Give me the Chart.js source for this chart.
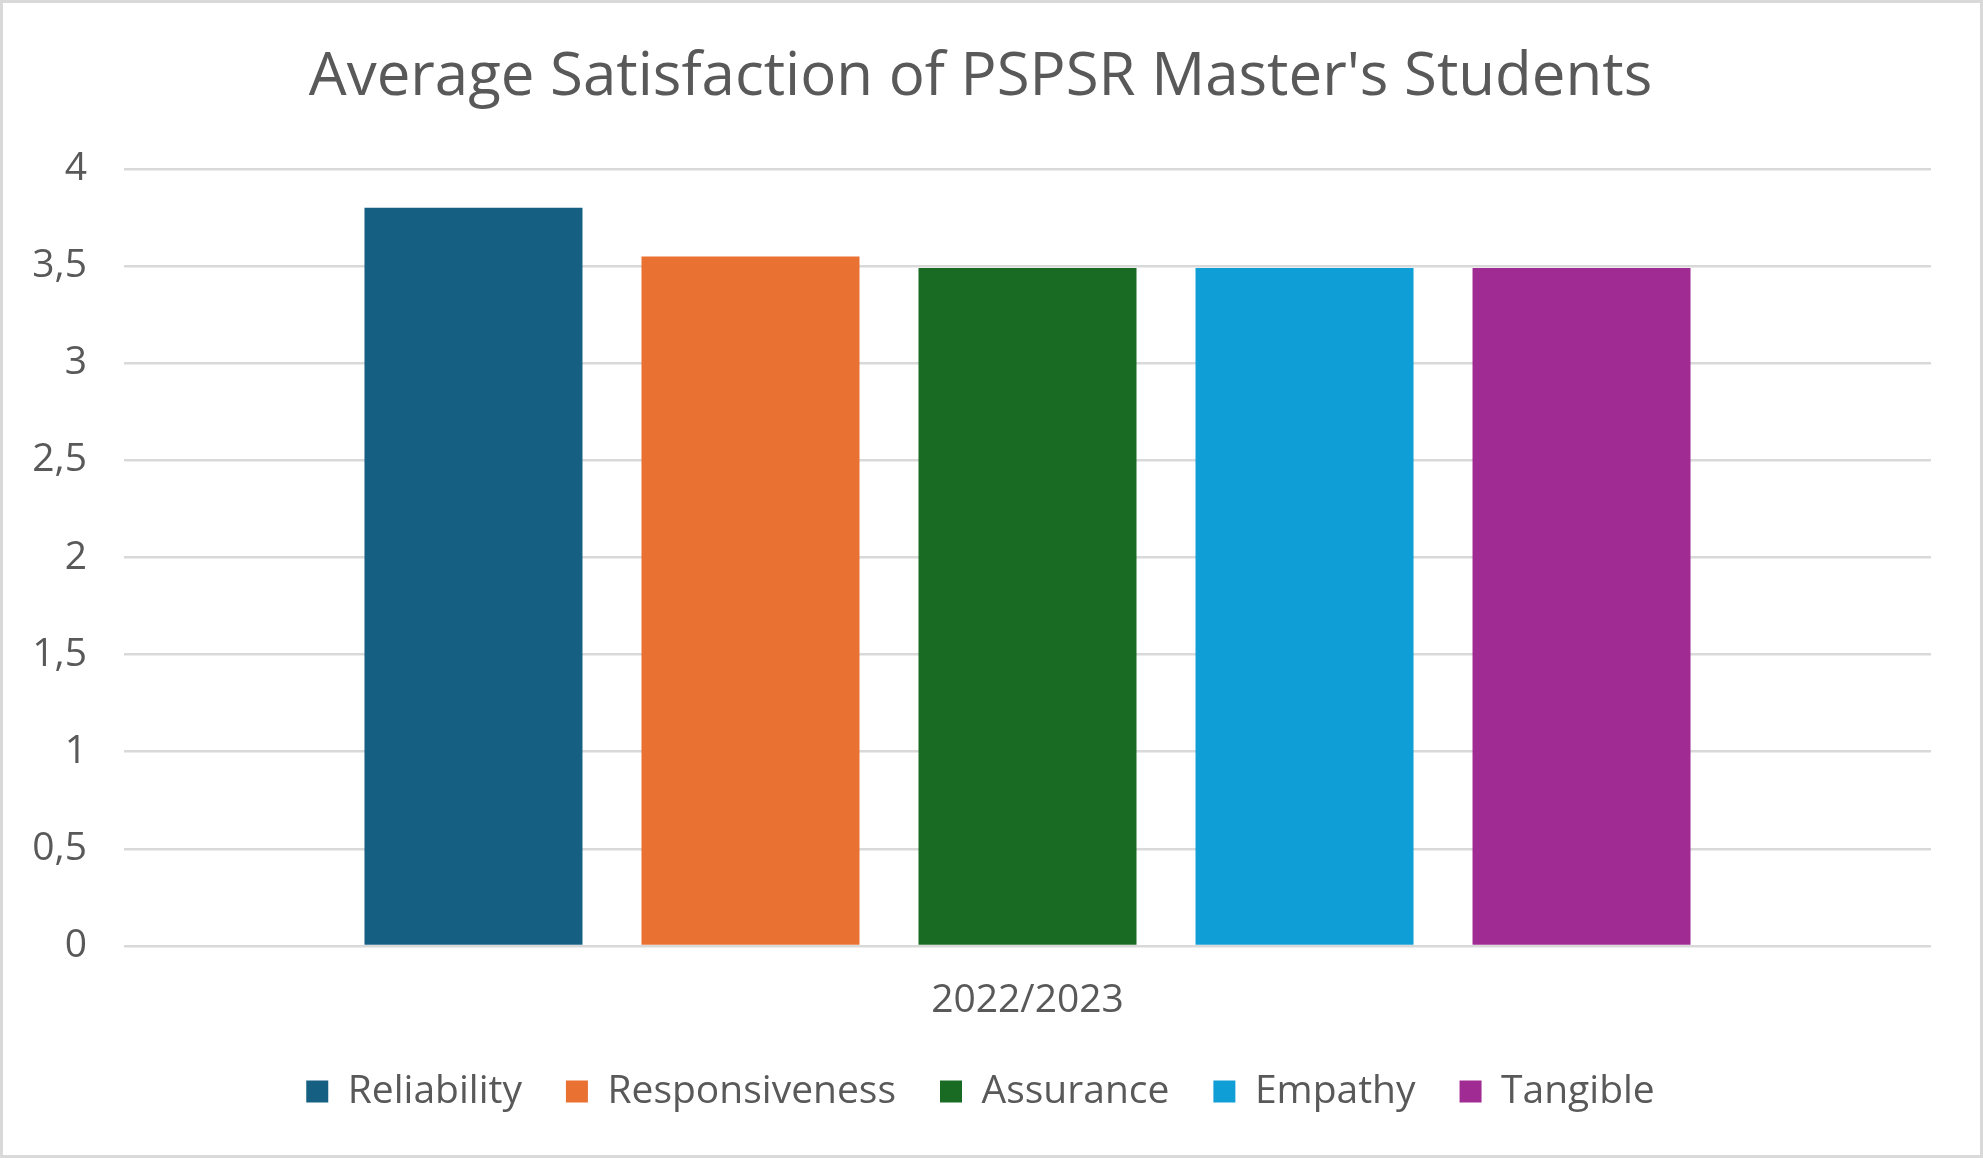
<!DOCTYPE html>
<html>
<head>
<meta charset="utf-8">
<script src="https://cdn.jsdelivr.net/npm/chart.js@4.4.1/dist/chart.umd.min.js"></script>
<style>
  html, body { margin: 0; padding: 0; background: #fff; }
  #wrap {
    box-sizing: border-box;
    width: 1983px; height: 1158px;
    border: 3px solid #d9d9d9;
    background: #fff;
  }
  #box { position: relative; width: 1977px; height: 1152px; }
</style>
</head>
<body>
<div id="wrap"><div id="box"><canvas id="chartContainer"></canvas></div></div>
<script>
// data
var years = ['2022/2023'];
var dimensions = ['Reliability', 'Responsiveness', 'Assurance', 'Empathy', 'Tangible'];
var reliability = [3.8];
var responsiveness = [3.55];
var assurance = [3.49];
var empathy = [3.49];
var tangible = [3.49];
var yTicks = [0, 0.5, 1, 1.5, 2, 2.5, 3, 3.5, 4];

var values = [reliability, responsiveness, assurance, empathy, tangible];
var colors = ['#156082', '#E97132', '#196B24', '#0F9ED5', '#A02B93'];

Chart.defaults.font.family = '"Open Sans", sans-serif';
Chart.defaults.color = '#595959';

var ctx = document.getElementById('chartContainer').getContext('2d');

var chart = new Chart(ctx, {
    type: 'bar',
    data: {
        labels: years,
        datasets: dimensions.map(function (name, i) {
            return {
                label: name,
                data: values[i],
                backgroundColor: colors[i],
                borderWidth: 0,
                barPercentage: 0.787,
                categoryPercentage: 0.7665
            };
        })
    },
    options: {
        responsive: true,
        maintainAspectRatio: false,
        devicePixelRatio: 1,
        animation: false,
        layout: { padding: { left: 27, right: 49, top: 0, bottom: 34 } },
        plugins: {
            title: {
                display: true,
                text: "Average Satisfaction of PSPSR Master's Students",
                color: '#595959',
                font: { size: 60, weight: 'normal' },
                padding: { top: 39, bottom: 55 }
            },
            legend: {
                position: 'bottom',
                labels: {
                    boxWidth: 22,
                    boxHeight: 22,
                    padding: 44,
                    color: '#595959',
                    font: { size: 39 }
                }
            },
            tooltip: { enabled: false }
        },
        scales: {
            x: {
                afterFit: function (scale) { scale.height = 82; },
                grid: { display: false, drawTicks: false },
                border: { display: false },
                ticks: { padding: 31, color: '#595959', font: { size: 39 } }
            },
            y: {
                min: 0,
                max: 4,
                afterFit: function (scale) { scale.width = 94; },
                afterBuildTicks: function (scale) {
                    scale.ticks = yTicks.map(function (v) { return { value: v }; });
                },
                grid: { color: '#d9d9d9', lineWidth: 2.6, drawTicks: false },
                border: { display: false },
                ticks: {
                    padding: 37,
                    color: '#595959',
                    font: { size: 39 },
                    callback: function (v) { return String(v).replace('.', ','); }
                }
            }
        }
    }
});
</script>
</body>
</html>
